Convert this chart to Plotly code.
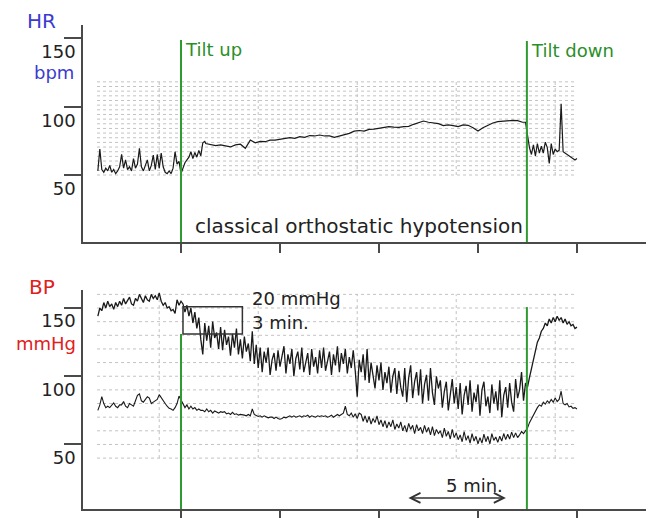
import numpy as np
import plotly.graph_objects as go

# ---------------- data (time in minutes, 0 = tilt up) ----------------
tilt_up_t = 0.0
tilt_down_t = 17.47
x_ticks = [0, 5, 10, 15, 20]
hr_ticks = [50, 100, 150]
bp_ticks = [50, 100, 150]
grid_t = [-1.1, 3.9, 8.9, 13.9, 18.9]
rec_start, rec_end = -4.24, 20.0

# heart rate (bpm), in segments: (start, step, values)
hr_pre = [53, 69, 54, 52, 55, 53, 57, 52, 54, 51, 53, 56, 65, 55, 61, 54, 56, 53, 62, 55,
          58, 69.5, 56, 53, 57, 61, 53, 57, 64.5, 54, 65, 55, 66, 56, 52, 51, 53, 51, 55, 67,
          58, 60, 51]
hr_rise = [55, 59, 61, 63, 67, 62, 66.5, 63, 68, 64, 73.5, 74.5]
hr_tilted = [73, 72, 71.5, 72, 71, 70.5, 72, 72.5, 69.5, 75.5,
             73.5, 74.5, 74.3, 75.5, 75.5, 76, 76.8, 77.3, 76.8, 78,
             77.5, 78.8, 78.5, 79.2, 78.5, 78.5, 77.5, 78.5, 79.5, 80.4,
             82, 82.5, 82, 83.3, 83.5, 84.1, 84.5, 85.3, 85, 84.8,
             85.3, 85.5, 87, 88, 89.4, 88.5, 88, 87.5, 86.1, 86.6,
             86, 85.3, 86.6, 86.3, 84.5, 82.1, 84.5, 86.5, 88, 89,
             89.4, 89.8, 89.9, 89.7, 88.5]
hr_post = [88.5, 80, 70, 65, 72, 64, 73, 66, 71, 66, 74, 70, 58.5, 73, 65, 69, 67, 68, 102, 67,
           66, 65, 64, 63.5, 62, 61, 62]
hr_segments = [(-4.2, 0.1, hr_pre), (0.1, 0.1, hr_rise), (1.25, 0.25, hr_tilted), (17.4, 0.1, hr_post)]

# blood pressure (mmHg), sampled every 0.1 min from -4.2 min
bp_start, bp_step = -4.2, 0.1
bp_sys = [144, 150, 148, 154, 150, 155, 151, 153, 149, 154, 151, 155, 152, 157, 153, 156, 158, 153, 152, 157,
          155, 160, 157, 154, 159, 156, 155, 160, 157, 159, 156, 161, 155, 152, 154, 150, 151, 148, 149, 146,
          156, 152, 155,
          153, 147, 152, 144, 150, 139, 147, 135, 143, 127,
          116, 139, 126, 137, 121, 140, 128, 132, 120, 136,
          119, 134, 123, 129, 115, 131, 121, 135, 116, 127,
          113, 129, 118, 124, 111, 133, 109, 123, 106, 121,
          103, 118, 110, 121, 101, 112, 117, 104, 119, 107,
          114, 122, 102, 116, 109, 120, 100, 113, 118, 105,
          121, 103, 110, 117, 101, 120, 107, 114, 102, 119,
          106, 121, 104, 111, 118, 101, 116, 108, 122, 103,
          117, 109, 120, 102, 114, 106, 119, 104, 85, 112,
          103, 116, 97, 120, 95, 110, 101, 91, 108, 97,
          110, 90, 103, 95, 107, 88, 100, 106, 87, 104,
          92, 85, 106, 81, 99, 108, 84, 96, 103, 86,
          105, 80, 94, 101, 82, 106, 88, 79, 100, 91,
          97, 77, 89, 96, 75, 85, 98, 80, 92, 76,
          95, 72, 86, 93, 79, 97, 74, 88, 81, 94,
          71, 90, 96, 78, 85, 73, 94, 80, 89, 75,
          97, 70, 86, 92, 77, 95, 81, 74, 98, 84,
          90, 103, 82, 95,
          92, 99, 106, 113, 119, 125, 128, 133, 135, 139, 137, 142, 139, 143, 140, 144,
          141, 143, 139, 142, 138, 140, 137, 138, 135, 136]
bp_dia = [75, 79, 85, 80, 77, 78, 77, 79, 80.5, 78, 77, 79, 79, 81.5, 78, 77, 80, 79, 78, 82,
          86, 87, 82, 81, 83, 85, 84, 80, 81, 82, 83, 86.5, 84, 82, 80, 78, 76.5, 76, 75, 77,
          80, 85.5, 83,
          80, 77, 79, 76, 78, 76, 77, 75, 76, 75,
          75, 74, 76, 74, 75, 73, 74.5, 74, 73, 74,
          73.5, 74, 72.5, 73, 72, 73.5, 72, 72.5, 71.5, 72,
          72, 71.5, 71, 72, 71, 76, 72, 71, 70.5, 71,
          70, 71, 70.5, 69.5, 70, 70, 69, 70, 69, 68.5,
          69, 70, 69.5, 70.5, 71, 70, 71, 70, 70.5, 71,
          70, 71, 70.5, 71.5, 70, 71, 70.5, 70, 71, 70.5,
          71, 70.5, 71, 70, 70.5, 71.5, 70, 71, 72, 71,
          72, 73, 78, 72, 71, 73, 70, 72.5, 69, 73,
          72, 67, 71, 66, 70.5, 65, 69, 66, 71, 64.5,
          68, 63, 67.5, 62, 66.5, 63, 68, 61, 65, 62,
          66.5, 60, 64, 59, 65.5, 61, 64, 58, 64.5, 60,
          62.5, 58, 64, 59, 62.5, 57, 63, 56.5, 61, 58,
          60, 55, 62, 56, 59.5, 54, 61, 55, 58.5, 53.5,
          57, 52, 59.5, 53, 56.5, 51, 58, 52.5, 56, 50.5,
          55, 51, 57.5, 52, 56, 50.5, 58, 53, 55.5, 51.5,
          56, 52.5, 58, 53.5, 57.5, 54, 59, 55, 58.5, 55,
          57, 59.5, 58, 60,
          62, 66, 69, 72, 75, 77, 79, 78, 81, 79.5, 82, 80.5, 83, 81, 84, 81.5,
          83, 89, 80, 79, 80, 77.5, 78, 76.5, 77, 76]

# scale markers
box_t0, box_len_t = 0.1, 3.0          # "3 min."
box_bp_top, box_len_bp = 151, 20      # "20 mmHg"
bar_t0, bar_len_t, bar_bp = 11.41, 5.0, 10.8   # "5 min."
hr_grid = np.linspace(50, 118, 21)
bp_grid = list(range(40, 161, 10))

# ---------------- build ----------------
hr_t, hr_v = [], []
for s, st, vals in hr_segments:
    hr_t += [round(s + st * i, 3) for i in range(len(vals))]
    hr_v += vals
bp_t = [round(bp_start + bp_step * i, 3) for i in range(len(bp_sys))]

GRID = dict(color="#c2c2c2", width=1, dash="dot")
AX = "#4a4a4a"
TXT = "#222222"
FONT = "DejaVu Sans"

# page body has an 8px margin: lay the figure out in window pixels shifted by OFF
OFF = 8
W, H = 654 - OFF, 518 - OFF
L, B = 83 - OFF, 9
PLOT_W, PLOT_H = W - L, H - B

fig = go.Figure()


def grid_traces(xa, ya, levels):
    gx, gy = [], []
    for lv in levels:
        gx += [rec_start, rec_end, None]
        gy += [lv, lv, None]
    for gt in grid_t:
        gx += [gt, gt, None]
        gy += [levels[0], levels[-1], None]
    fig.add_trace(go.Scatter(x=gx, y=gy, mode="lines", line=GRID, xaxis=xa, yaxis=ya,
                             hoverinfo="skip"))


grid_traces("x", "y", list(hr_grid))
grid_traces("x2", "y2", bp_grid)

fig.add_trace(go.Scatter(x=hr_t, y=hr_v, mode="lines", line=dict(color="#1a1a1a", width=1.2),
                         xaxis="x", yaxis="y", name="HR"))
fig.add_trace(go.Scatter(x=bp_t, y=bp_sys, mode="lines", line=dict(color="#1a1a1a", width=1.3),
                         xaxis="x2", yaxis="y2", name="systolic"))
fig.add_trace(go.Scatter(x=bp_t, y=bp_dia, mode="lines", line=dict(color="#1a1a1a", width=1.1),
                         xaxis="x2", yaxis="y2", name="diastolic"))

GREEN = "#2f9a2f"
hr_range = [1.1, 159.5]
bp_range = [2.7, 163.2]
shapes = [
    dict(type="line", xref="x", yref="y", x0=tilt_up_t, x1=tilt_up_t, y0=hr_range[0], y1=148.5,
         line=dict(color=GREEN, width=2)),
    dict(type="line", xref="x", yref="y", x0=tilt_down_t, x1=tilt_down_t, y0=hr_range[0], y1=147.8,
         line=dict(color=GREEN, width=2)),
    dict(type="line", xref="x2", yref="y2", x0=tilt_up_t, x1=tilt_up_t, y0=bp_range[0],
         y1=box_bp_top - box_len_bp, line=dict(color=GREEN, width=2)),
    dict(type="line", xref="x2", yref="y2", x0=tilt_down_t, x1=tilt_down_t, y0=bp_range[0], y1=150.7,
         line=dict(color=GREEN, width=2)),
    dict(type="rect", xref="x2", yref="y2", x0=box_t0, x1=box_t0 + box_len_t,
         y0=box_bp_top - box_len_bp, y1=box_bp_top, line=dict(color="#333333", width=1.5)),
]


def px2paper(px, py):
    """window pixel -> paper fraction"""
    return (px - OFF - L) / PLOT_W, (PLOT_H - (py - OFF)) / PLOT_H


def ann(text, px, py, color=TXT, size=18, xanchor="left"):
    x, y = px2paper(px, py)
    return dict(text=text, x=x, y=y, xref="paper", yref="paper", xanchor=xanchor, yanchor="middle",
                showarrow=False, font=dict(family=FONT, size=size, color=color))


BLUE = "#3b3bd0"
RED = "#e02020"
GTXT = "#2a8f2a"
annotations = [
    ann("HR", 25, 21, BLUE, 20),
    ann("bpm", 76, 72, BLUE, 18, "right"),
    ann("BP", 27, 287, RED, 20),
    ann("mmHg", 78, 343, RED, 18, "right"),
    ann("Tilt up", 183, 49, GTXT, 18),
    ann("Tilt down", 529, 50, GTXT, 18),
    ann("classical orthostatic hypotension", 359, 226, TXT, 20, "center"),
    ann("20 mmHg", 250, 298, TXT, 18),
    ann("3 min.", 250, 322, TXT, 18),
    ann("5 min.", 444, 485, TXT, 18),
    dict(x=bar_t0 + bar_len_t, y=bar_bp, ax=bar_t0, ay=bar_bp, xref="x2", yref="y2",
         axref="x2", ayref="y2", text="", showarrow=True, arrowhead=5, startarrowhead=5,
         arrowside="end+start", arrowsize=1.3, startarrowsize=1.3, arrowwidth=1.5,
         arrowcolor="#333333"),
]


def dom(top_px, bottom_px):
    return [(PLOT_H - (bottom_px - OFF)) / PLOT_H, (PLOT_H - (top_px - OFF)) / PLOT_H]


xcommon = dict(range=[-4.95, 23.89], showline=True, linecolor=AX, linewidth=1.5, ticks="outside",
               ticklen=9, tickwidth=1.5, tickcolor=AX, tickvals=x_ticks, showticklabels=False,
               showgrid=False, zeroline=False, automargin=False)
ycommon = dict(showline=True, linecolor=AX, linewidth=1.5, ticks="outside", ticklen=17, tickwidth=1.5,
               tickcolor=AX, showgrid=False, zeroline=False, ticklabelstandoff=-15, automargin=False,
               tickfont=dict(family=FONT, size=18, color=TXT))

fig.update_layout(
    width=W, height=H, margin=dict(l=L, r=0, t=0, b=B, autoexpand=False),
    paper_bgcolor="white", plot_bgcolor="white", showlegend=False,
    xaxis=dict(domain=[0, 1], anchor="y", **xcommon),
    yaxis=dict(domain=dom(25, 242), range=hr_range, tickvals=hr_ticks,
               anchor="x", ticklabelshift=14, **ycommon),
    xaxis2=dict(domain=[0, 1], anchor="y2", **xcommon),
    yaxis2=dict(domain=dom(290, 509), range=bp_range, tickvals=bp_ticks, anchor="x2",
                ticklabelshift=13, **ycommon),
    shapes=shapes, annotations=annotations,
)

fig.write_html("out.html")
